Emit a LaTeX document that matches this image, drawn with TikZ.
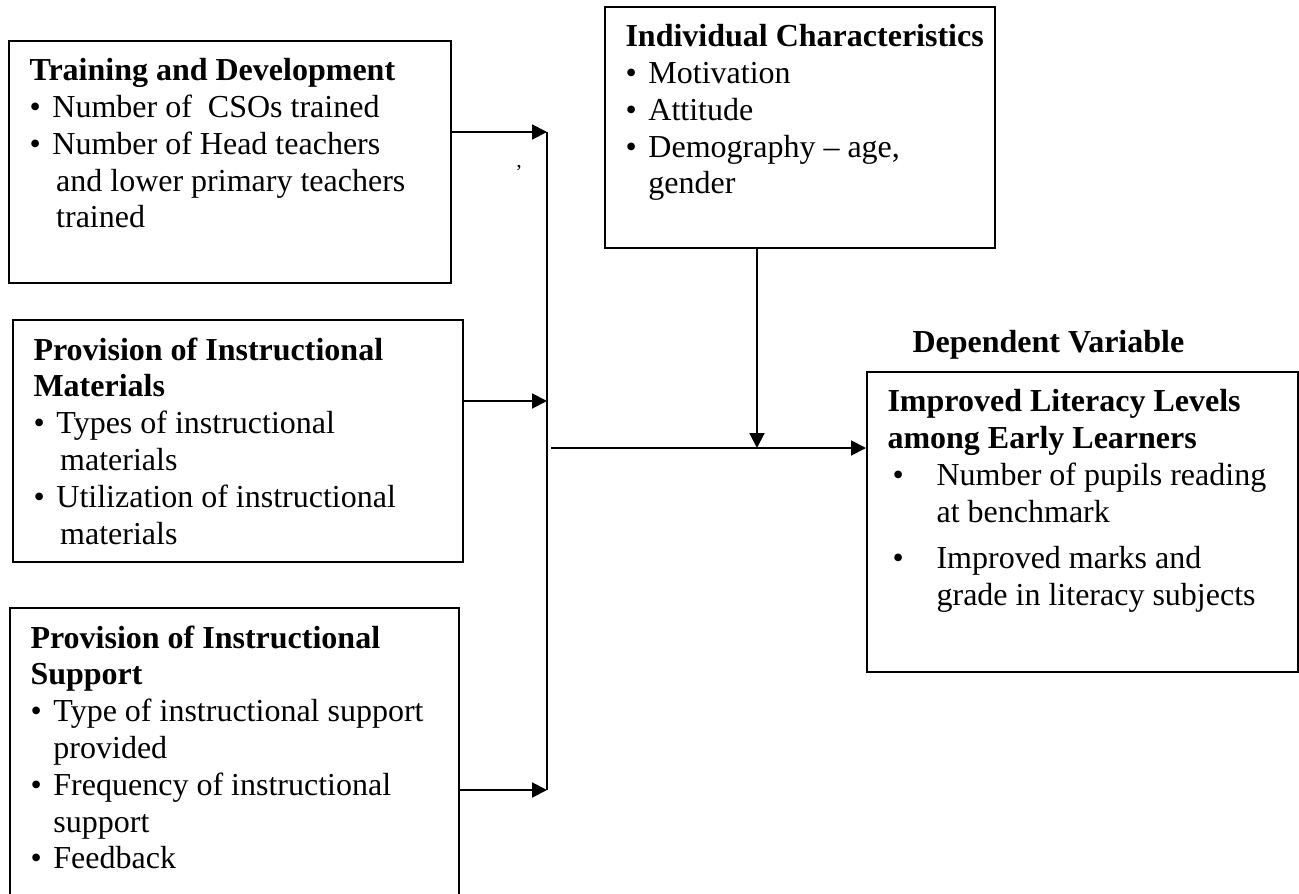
\documentclass[tikz,border=0pt]{standalone}
\usepackage{fontspec}
\setmainfont{Liberation Serif}
\usetikzlibrary{arrows.meta,fit}
\newcommand{\bul}[1][8.6pt]{\makebox[#1][l]{\textbullet}}

\begin{document}
\begin{tikzpicture}[x=0.375pt, y=-0.375pt,
    frame/.style={draw, line width=0.75pt, inner sep=0pt},
    txt/.style={anchor=north west, inner sep=0pt, align=left, font=\fontsize{12}{13.8}\selectfont},
    link/.style={line width=0.75pt, -{Triangle[length=5.6pt, width=5.6pt]}}]
    \useasboundingbox (0,0) rectangle (1299,894);
    \clip (0,0) rectangle (1299,894);
    % boxes
    \node[frame, fit={(9,41) (451,283)}] (train) {};
    \node[frame, fit={(605,7) (995,248)}] (indiv) {};
    \node[frame, fit={(13,320) (463,562)}] (mat) {};
    \node[frame, fit={(10,608) (459,930)}] (supp) {};
    \node[frame, fit={(867,372) (1298,672)}] (lit) {};
    % texts
    \node[txt] (traintext) at ([shift={(21,18)}]train.north west) {\textbf{Training and Development}\\
        \bul Number of\ \ CSOs trained\\
        \bul Number of Head teachers\\
        \hspace*{10pt}and lower primary teachers\\
        \hspace*{10pt}trained};
    \node[txt] (indivtext) at ([shift={(21,18)}]indiv.north west) {\textbf{Individual Characteristics}\\
        \bul Motivation\\
        \bul Attitude\\
        \bul Demography -- age,\\
        \hspace*{8.6pt}gender};
    \node[txt] (mattext) at ([shift={(21,18)}]mat.north west) {\textbf{Provision of Instructional}\\
        \textbf{Materials}\\
        \bul Types of instructional\\
        \hspace*{10pt}materials\\
        \bul Utilization of instructional\\
        \hspace*{10pt}materials};
    \node[txt] (supptext) at ([shift={(21,18)}]supp.north west) {\textbf{Provision of Instructional}\\
        \textbf{Support}\\
        \bul Type of instructional support\\
        \hspace*{8.6pt}provided\\
        \bul Frequency of instructional\\
        \hspace*{8.6pt}support\\
        \bul Feedback};
    \node[txt] (littext) at ([shift={(21,18)}]lit.north west) {\textbf{Improved Literacy Levels}\\
        \textbf{among Early Learners}\\
        \hspace*{1.9pt}\bul[16.5pt]Number of pupils reading\\
        \hspace*{18.4pt}at benchmark\\[3.5pt]
        \hspace*{1.9pt}\bul[16.5pt]Improved marks and\\
        \hspace*{18.4pt}grade in literacy subjects};
    \node[txt, anchor=base west, font=\fontsize{12}{13.8}\selectfont\bfseries] (dep) at (912,352) {Dependent Variable};
    \node[txt, anchor=center, font=\fontsize{8}{8}\selectfont] (stray) at (519,172) {'};
    % connectors
    \coordinate (bustop) at (547,132);
    \coordinate (busmid) at (547,401);
    \coordinate (busend) at (547,790);
    \coordinate (feed) at (551,448);
    \coordinate (join) at (757,448);
    \draw[link] (train.east |- bustop) -- (bustop);
    \draw[link] (mat.east |- busmid) -- (busmid);
    \draw[link] (supp.east |- busend) -- (busend);
    \draw[line width=0.75pt] (bustop) -- (busend);
    \draw[link] (join |- indiv.south) -- (join);
    \draw[link] (feed) -- (lit.west |- feed);
\end{tikzpicture}
\end{document}
